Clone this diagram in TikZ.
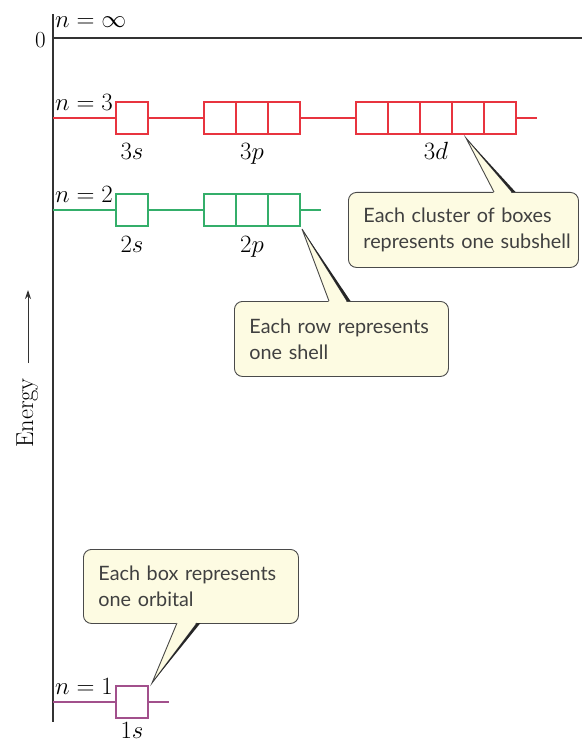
\documentclass[tikz,border=0pt]{standalone}
\usepackage{fontspec}
\newfontfamily\callfont{Lato}
\usetikzlibrary{calc,arrows.meta}
\definecolor{lvred}{HTML}{E8343F}
\definecolor{lvgreen}{HTML}{34AE6A}
\definecolor{lvpurple}{HTML}{A2508C}
\definecolor{axisgray}{HTML}{333333}
\definecolor{callfill}{HTML}{FDFBE2}
\definecolor{callline}{HTML}{4A4A4A}
\begin{document}
\begin{tikzpicture}[x=1pt,y=-1pt,
  lbl/.style={font=\fontsize{23}{27}\selectfont, inner sep=0pt},
  orb/.style={draw, fill=white, minimum width=32pt, minimum height=32pt, inner sep=0pt, outer sep=0pt, line width=1.2pt},
  lvline/.style={line width=1.2pt},
  callout/.style={draw=callline, fill=callfill, rounded corners=8pt, line width=0.9pt,
     font=\callfont\fontsize{19.8}{26}\selectfont, text=black!75, align=left,
     inner xsep=15pt, minimum height=75pt, anchor=north west},
  ptrfill/.style={fill=callfill},
  ptrline/.style={draw=callline, line width=0.9pt},
  ptrshadow/.style={fill=black!85}
]
\useasboundingbox (0,0) rectangle (582,743);
% axis
\coordinate (axtop) at (53,14);
\coordinate (axbot) at (53,722);
\draw[axisgray, line width=1.5pt] (axtop) -- (axbot);
\coordinate (z0) at (53,38);
\coordinate (z1) at (582,38);
\draw[axisgray, line width=1.3pt] (z0) -- (z1);
\node[lbl, anchor=base east] (zero) at (46,48) {0};
\node[lbl, anchor=base west] (ninf) at (55,28) {$n=\infty$};
% energy
\node[lbl, rotate=90, anchor=base, font=\fontsize{24.5}{28}\selectfont] (energy) at (33,413) {Energy};
\coordinate (ebot) at (28,363);
\coordinate (etop) at (28,290);
\draw[axisgray, line width=1pt, -{Stealth[length=9pt,width=6pt]}] (ebot) -- (etop);

% n = 3
\begin{scope}[lvred]
\coordinate (a3) at (53,118);
\coordinate (e3) at (537,118);
\node[orb] (s3) at (132,118) {};
\node[orb] (p3a) at (220,118) {};
\node[orb] (p3b) at (252,118) {};
\node[orb] (p3c) at (284,118) {};
\node[orb] (d3a) at (372,118) {};
\node[orb] (d3b) at (404,118) {};
\node[orb] (d3c) at (436,118) {};
\node[orb] (d3d) at (468,118) {};
\node[orb] (d3e) at (500,118) {};
\draw[lvline] (a3) -- (s3.west);
\draw[lvline] (s3.east) -- (p3a.west);
\draw[lvline] (p3c.east) -- (d3a.west);
\draw[lvline] (d3e.east) -- (e3);
\end{scope}
\node[lbl, anchor=base west] (n3) at (55,111) {$n=3$};
\node[lbl, anchor=base] (l3s) at (132,160) {$3s$};
\node[lbl, anchor=base] (l3p) at (252,160) {$3p$};
\node[lbl, anchor=base] (l3d) at (436,160) {$3d$};

% n = 2
\begin{scope}[lvgreen]
\coordinate (a2) at (53,210);
\coordinate (e2) at (321,210);
\node[orb] (s2) at (132,210) {};
\node[orb] (p2a) at (220,210) {};
\node[orb] (p2b) at (252,210) {};
\node[orb] (p2c) at (284,210) {};
\draw[lvline] (a2) -- (s2.west);
\draw[lvline] (s2.east) -- (p2a.west);
\draw[lvline] (p2c.east) -- (e2);
\end{scope}
\node[lbl, anchor=base west] (n2) at (55,203) {$n=2$};
\node[lbl, anchor=base] (l2s) at (132,252) {$2s$};
\node[lbl, anchor=base] (l2p) at (252,252) {$2p$};

% n = 1
\begin{scope}[lvpurple]
\coordinate (a1) at (53,702);
\coordinate (e1) at (169,702);
\node[orb] (s1) at (132,702) {};
\draw[lvline] (a1) -- (s1.west);
\draw[lvline] (s1.east) -- (e1);
\end{scope}
\node[lbl, anchor=base west] (n1) at (55,694) {$n=1$};
\node[lbl, anchor=base] (l1s) at (132,738) {$1s$};

% callout 1
\node[callout, minimum width=230pt, text width=200pt] (c1) at (348,192)
  {\mbox{Each cluster of boxes}\\\mbox{represents one subshell}};
\coordinate (t1) at (466,138);
\fill[ptrfill] (494,193.5) -- (t1) -- (512,193.5) -- cycle;
\draw[ptrline] (494,192) -- (t1) -- (512,192);
\fill[ptrshadow] (t1) -- (512,192) -- (515.5,192) -- cycle;

% callout 2
\node[callout, minimum width=214pt, text width=184pt] (c2) at (234,301)
  {\mbox{Each row represents}\\one shell};
\coordinate (t2) at (302,229);
\fill[ptrfill] (329,302.5) -- (t2) -- (347,302.5) -- cycle;
\draw[ptrline] (329,301) -- (t2) -- (347,301);
\fill[ptrshadow] (t2) -- (347,301) -- (350.5,301) -- cycle;

% callout 3
\node[callout, minimum width=215pt, text width=185pt, minimum height=74pt] (c3) at (83,549)
  {\mbox{Each box represents}\\one orbital};
\coordinate (t3) at (152,683);
\fill[ptrfill] (177,621.5) -- (t3) -- (197,621.5) -- cycle;
\draw[ptrline] (177,623) -- (t3) -- (197,623);
\fill[ptrshadow] (t3) -- (197,623) -- (200.5,623) -- cycle;
\end{tikzpicture}
\end{document}
